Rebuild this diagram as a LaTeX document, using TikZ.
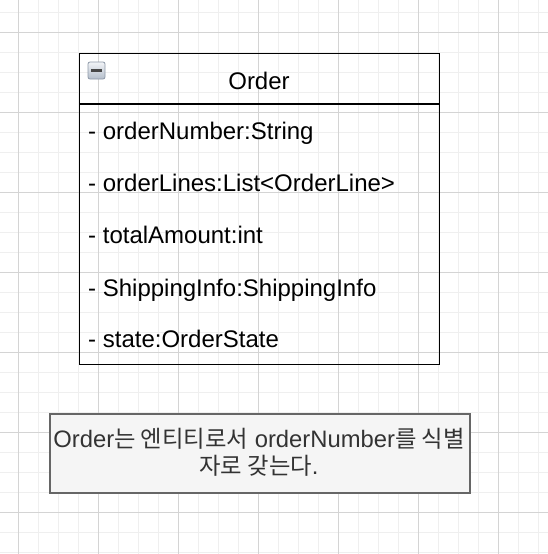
\documentclass[tikz,border=0pt]{standalone}
\usepackage{fontspec}
\setmainfont{Liberation Sans}
\newfontfamily\krfont[Scale=0.98]{Noto Sans CJK KR}
\definecolor{gridminor}{HTML}{EFEFEF}
\definecolor{gridmajor}{HTML}{D4D4D4}
\definecolor{notefill}{HTML}{F5F5F5}
\definecolor{noteline}{HTML}{666666}
\definecolor{notetextc}{HTML}{333333}
\definecolor{icontop}{HTML}{F2F4F7}
\definecolor{iconbot}{HTML}{B4BECB}
\definecolor{iconline}{HTML}{8E99A8}
\begin{document}
\begin{tikzpicture}[x=1pt,y=-1pt,
  minorline/.style={draw=gridminor,line width=1pt},
  majorline/.style={draw=gridmajor,line width=1pt},
  classbox/.style={draw=black,line width=1.4pt,inner sep=0pt,anchor=north west},
  attr/.style={inner sep=0pt,anchor=base west,font=\fontsize{24}{28}\selectfont},
  titletext/.style={inner sep=0pt,anchor=base,font=\fontsize{24}{28}\selectfont},
  notebox/.style={draw=noteline,fill=notefill,line width=2pt,inner sep=0pt,anchor=north west},
  notetext/.style={inner sep=0pt,anchor=base,text=notetextc,font=\fontsize{23.8}{28}\selectfont},
  iconbox/.style={draw=iconline,line width=0.8pt,rounded corners=2pt,top color=icontop,bottom color=iconbot,minimum width=17pt,minimum height=17pt,inner sep=0pt}
]
\useasboundingbox (0,0) rectangle (548,554);
\fill[white] (0,0) rectangle (548,554);
% grid
\foreach \x in {18,38,...,538} \draw[minorline] (\x,0) -- (\x,554);
\foreach \y in {12,32,...,552} \draw[minorline] (0,\y) -- (548,\y);
\foreach \x in {18,98,...,538} \draw[majorline] (\x,0) -- (\x,554);
\foreach \y in {32,112,...,552} \draw[majorline] (0,\y) -- (548,\y);
% class
\node[classbox,minimum width=360pt,minimum height=311pt] (cls) at (79,53) {};
\draw[line width=1.4pt] ([yshift=-51pt]cls.north west) -- ([yshift=-51pt]cls.north east);
\node[titletext] (title) at (259,89) {Order};
\node[iconbox] (btn) at (96.5,70.5) {};
\draw[line width=2.8pt,draw=black!72] ([xshift=-5.5pt]btn.center) -- ([xshift=5.5pt]btn.center);
\node[attr] (a1) at (88,139) {- orderNumber:String};
\node[attr] (a2) at (88,191) {- orderLines:List<OrderLine>};
\node[attr] (a3) at (88,243) {- totalAmount:int};
\node[attr] (a4) at (88,296) {- ShippingInfo:ShippingInfo};
\node[attr] (a5) at (88,347) {- state:OrderState};
% note
\node[notebox,minimum width=420pt,minimum height=79pt] (note) at (49,413) {};
\node[notetext] (nt1) at (259,447) {Order{\krfont 는 엔티티로서} orderNumber{\krfont 를 식별}};
\node[notetext] (nt2) at (259,474) {{\krfont 자로 갖는다}.};
\end{tikzpicture}
\end{document}
